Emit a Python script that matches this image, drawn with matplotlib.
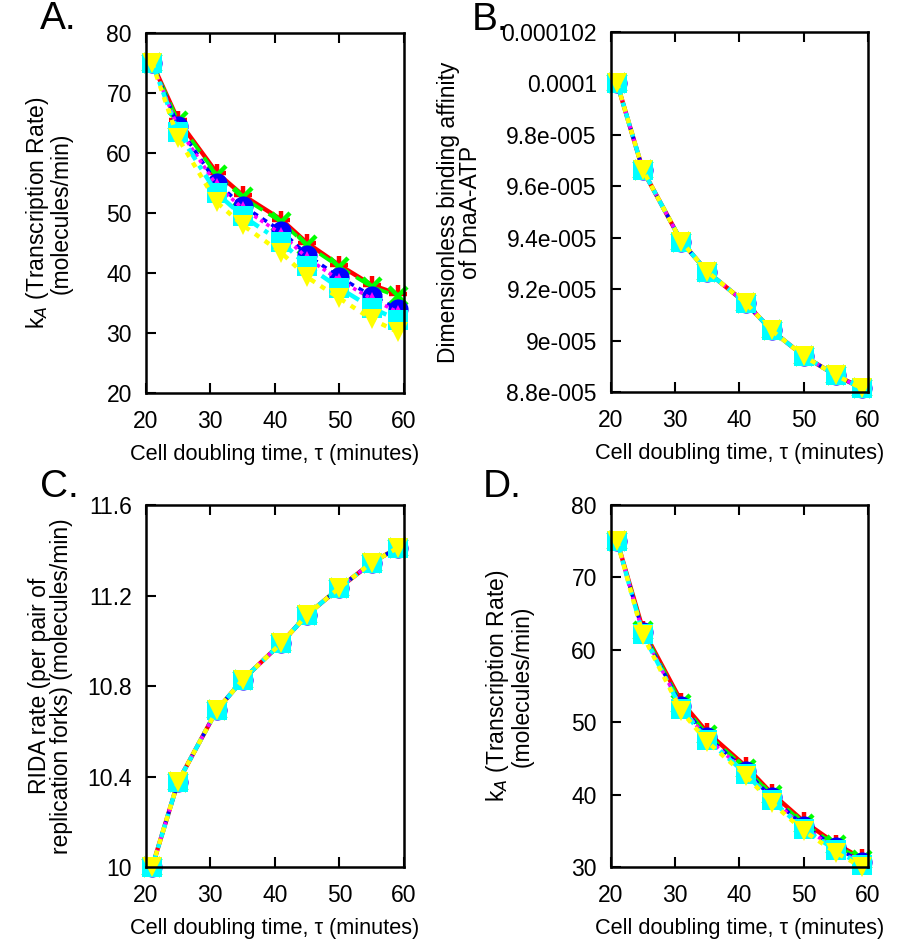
import matplotlib
matplotlib.use("Agg")
import matplotlib.pyplot as plt

plt.rcParams['font.family'] = ['Liberation Sans', 'DejaVu Sans']

tau = [21, 25, 31, 35, 41, 45, 50, 55, 59]

# Panel A: transcription rate for six parameter sets
a_red     = [75, 65.5, 56.7, 53.0, 48.9, 45.0, 41.3, 38.0, 36.5]
a_green   = [75, 65.3, 56.3, 52.6, 48.5, 44.6, 41.0, 37.7, 36.1]
a_blue    = [75, 64.5, 55.0, 51.2, 47.0, 43.0, 39.3, 36.2, 34.0]
a_magenta = [75, 64.2, 54.6, 50.8, 46.5, 42.5, 38.8, 35.7, 33.5]
a_cyan    = [75, 63.5, 53.3, 49.5, 45.2, 41.2, 37.5, 34.2, 32.2]
a_yellow  = [75, 62.5, 51.8, 48.0, 43.4, 39.3, 35.8, 32.3, 30.2]

# Panel B: binding affinity (identical for all series)
b_vals = [1.0e-4, 9.663e-5, 9.385e-5, 9.268e-5, 9.146e-5, 9.04e-5, 8.94e-5, 8.865e-5, 8.815e-5]

# Panel C: RIDA rate (identical for all series)
c_vals = [10.0, 10.376, 10.693, 10.827, 10.99, 11.115, 11.234, 11.345, 11.41]

# Panel D: transcription rate
d_red     = [75, 62.8, 52.8, 48.6, 43.9, 40.2, 36.3, 33.2, 31.2]
d_green   = [75, 62.6, 52.5, 48.3, 43.6, 39.9, 36.0, 33.0, 31.0]
d_blue    = [75, 62.4, 52.2, 48.0, 43.3, 39.6, 35.7, 32.7, 30.7]
d_magenta = [75, 62.3, 52.0, 47.8, 43.1, 39.4, 35.5, 32.5, 30.5]
d_cyan    = [75, 62.2, 51.8, 47.6, 42.9, 39.2, 35.3, 32.3, 30.3]
d_yellow  = [75, 62.0, 51.5, 47.3, 42.6, 38.9, 35.0, 32.0, 30.0]

x_ticks = [20, 30, 40, 50, 60]
a_yticks = [20, 30, 40, 50, 60, 70, 80]
b_yticks = [8.8e-5, 9.0e-5, 9.2e-5, 9.4e-5, 9.6e-5, 9.8e-5, 1.0e-4, 1.02e-4]
b_yticklabels = ['8.8e-005', '9e-005', '9.2e-005', '9.4e-005', '9.6e-005',
                 '9.8e-005', '0.0001', '0.000102']
c_yticks = [10.0, 10.4, 10.8, 11.2, 11.6]
c_yticklabels = ['10', '10.4', '10.8', '11.2', '11.6']
d_yticks = [30, 40, 50, 60, 70, 80]

xlabel = 'Cell doubling time, τ (minutes)'
ka_label = 'k$_A$ (Transcription Rate)\n(molecules/min)'
b_label = 'Dimensionless binding affinity\nof DnaA-ATP'
c_label = 'RIDA rate (per pair of\nreplication forks) (molecules/min)'

FS = 16.5
FSX = 15.7

styles = [
    dict(color='#ff0000', ls='-',  lw=3.2, marker='+', ms=13, mew=3.2),
    dict(color='#00ff00', ls=(0, (4, 2)), lw=2.6, marker='x', ms=13, mew=3.2),
    dict(color='#0000ff', ls=(0, (1.5, 1.5)), lw=2.6, marker='o', ms=14.5, mew=0),
    dict(color='#ff00ff', ls=(0, (1, 1)), lw=2.6, marker='^', ms=10.5, mew=0),
    dict(color='#00ffff', ls=(0, (3, 1.5, 1, 1.5)), lw=3.2, marker='s', ms=15, mew=0),
    dict(color='#ffff00', ls=(0, (1.2, 1.5)), lw=3.2, marker='v', ms=15, mew=0),
]

fig = plt.figure(figsize=(8.99, 9.4), dpi=100)
W, H = 899, 940

def add_ax(left, top, right, bottom):
    return fig.add_axes([left / W, 1 - bottom / H, (right - left) / W, (bottom - top) / H])

axA = add_ax(145.7, 33, 404, 393)
axB = add_ax(610.7, 32, 868, 392)
axC = add_ax(145.7, 505, 404, 867)
axD = add_ax(610.7, 505, 868, 867)

def plot_series(ax, series_list):
    for ys, st in zip(series_list, styles):
        ax.plot(tau, ys, color=st['color'], linestyle=st['ls'], linewidth=st['lw'],
                marker=st['marker'], markersize=st['ms'], markeredgewidth=st['mew'],
                markeredgecolor=st['color'], markerfacecolor=st['color'], clip_on=False)

plot_series(axA, [a_red, a_green, a_blue, a_magenta, a_cyan, a_yellow])
plot_series(axB, [b_vals] * 6)
plot_series(axC, [c_vals] * 6)
plot_series(axD, [d_red, d_green, d_blue, d_magenta, d_cyan, d_yellow])

def style_ax(ax, ylim, yticks, yticklabels=None):
    ax.set_xlim(20, 60)
    ax.set_ylim(*ylim)
    ax.set_xticks(x_ticks)
    ax.set_yticks(yticks)
    if yticklabels is not None:
        ax.set_yticklabels(yticklabels)
    ax.tick_params(axis='x', which='both', direction='in', top=True, bottom=True,
                   length=7, width=1.5, labelsize=FS, pad=12)
    ax.tick_params(axis='y', which='both', direction='in', left=True, right=False,
                   length=7, width=1.5, labelsize=FS, pad=10)
    for s in ax.spines.values():
        s.set_linewidth(1.8)
    ax.set_xlabel(xlabel, fontsize=FSX, labelpad=8)

style_ax(axA, (20, 80), a_yticks)
style_ax(axB, (8.8e-5, 1.02e-4), b_yticks, b_yticklabels)
style_ax(axC, (10.0, 11.6), c_yticks, c_yticklabels)
style_ax(axD, (30, 80), d_yticks)

axA.set_ylabel(ka_label, fontsize=FS, linespacing=0.95)
axB.set_ylabel(b_label, fontsize=FS, linespacing=0.95)
axC.set_ylabel(c_label, fontsize=FS, linespacing=0.95)
axD.set_ylabel(ka_label, fontsize=FS, linespacing=0.95)

axA.yaxis.set_label_coords(-0.283, 0.5)
axB.yaxis.set_label_coords(-0.50, 0.5)
axC.yaxis.set_label_coords(-0.283, 0.5)
axD.yaxis.set_label_coords(-0.30, 0.5)

for lbl, (x, y) in zip(['A.', 'B.', 'C.', 'D.'],
                       [(40, 19), (472, 20), (40, 487), (483, 487)]):
    fig.text(x / W, 1 - y / H, lbl, fontsize=28, ha='left', va='center')

fig.savefig('out.png', dpi=100)
